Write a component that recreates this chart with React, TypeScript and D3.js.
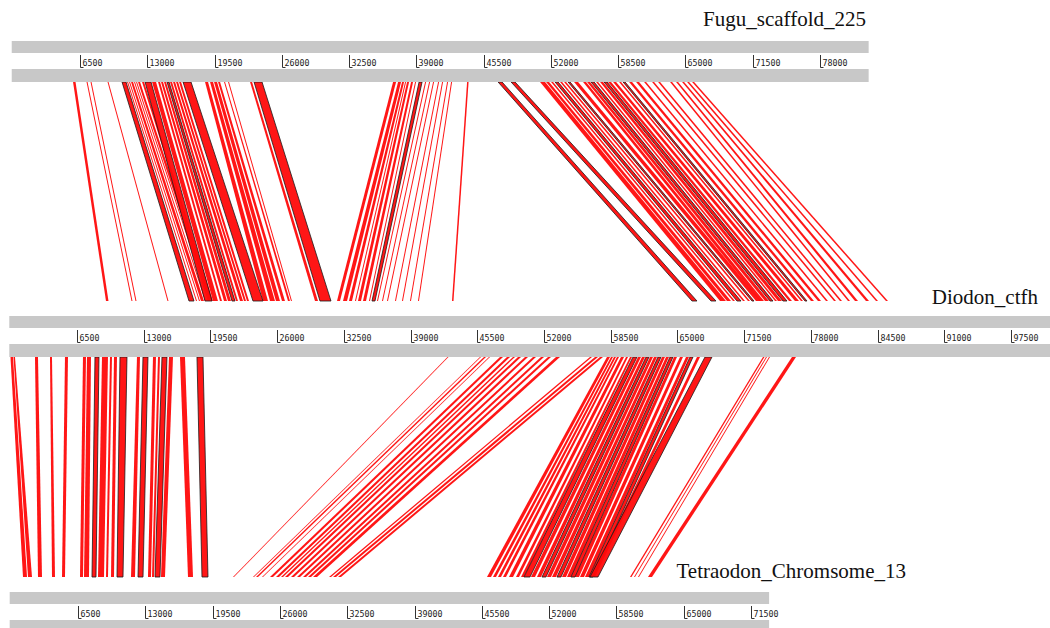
import React from 'react';
import * as d3 from 'd3';

// sequence names and lengths (bp)
const sequences = ['Fugu_scaffold_225', 'Diodon_ctfh', 'Tetraodon_Chromsome_13'];
const seqLengths = [82700, 101500, 73250];

// matches: [start1, end1, start2, end2, outlined]
// Fugu -> Diodon
const fuguDiodonLeft: number[][] = [
  [5827, 6068, 9324, 9568, 0],
  [7131, 7228, 11809, 11906, 0],
  [7518, 7614, 12198, 12296, 0],
  [9160, 9257, 15316, 15414, 0],
  [10562, 10948, 17411, 17898, 1],
  [11045, 11141, 18093, 18190, 0],
  [11238, 11335, 18385, 18483, 0],
  [11431, 11625, 18580, 18872, 0],
  [11721, 11818, 18970, 19067, 0],
  [11914, 12011, 19262, 19359, 0],
  [12108, 12301, 19359, 19652, 0],
  [12494, 12688, 19554, 19749, 0],
  [12784, 13364, 18970, 19652, 1],
  [13461, 13847, 19749, 20236, 0],
  [14040, 14234, 20431, 20626, 0],
  [14330, 14524, 20821, 21113, 0],
  [14620, 14814, 21211, 21503, 0],
  [14910, 15103, 21600, 21892, 1],
  [15200, 15393, 21990, 22185, 0],
  [15490, 15683, 22380, 22672, 0],
  [15780, 15973, 22769, 22964, 0],
  [16070, 16263, 23062, 23257, 0],
  [16456, 17229, 23646, 24621, 1],
  [18582, 18872, 24621, 25108, 0],
  [19065, 19355, 25303, 25790, 0],
  [19452, 19742, 25887, 26277, 0],
  [19838, 20032, 26472, 26764, 0],
  [20418, 20515, 27056, 27251, 0],
  [20804, 20901, 27349, 27446, 0],
  [22930, 23124, 29687, 29979, 0],
  [23317, 24090, 30174, 31246, 1],
];

const fuguDiodonMid: number[][] = [
  [36748, 37038, 31830, 32123, 0],
  [37232, 37522, 32415, 32805, 0],
  [37618, 37812, 32999, 33291, 0],
  [37908, 38005, 33584, 33681, 0],
  [38101, 38295, 33876, 34169, 0],
  [38488, 38681, 34364, 34656, 0],
  [38874, 38971, 34948, 35046, 0],
  [39261, 39551, 35241, 35533, 1],
  [39841, 39938, 35728, 35825, 0],
  [40227, 40324, 36215, 36312, 0],
  [40614, 40710, 36702, 36800, 0],
  [41097, 41194, 37482, 37579, 0],
  [41483, 41580, 38163, 38261, 0],
  [41966, 42063, 38943, 39040, 0],
  [42353, 42450, 39722, 39820, 0],
  [43899, 44044, 43035, 43181, 0],
];

const fuguDiodonRight: number[][] = [
  [46894, 47281, 66418, 66905, 1],
  [48151, 48537, 68269, 68756, 1],
  [50953, 51436, 69146, 69730, 0],
  [51533, 51823, 69828, 70217, 0],
  [52016, 52209, 70413, 70607, 0],
  [52402, 52692, 70802, 71192, 1],
  [52886, 53079, 71387, 71582, 0],
  [53272, 53465, 71874, 72069, 0],
  [53659, 53852, 72264, 72458, 1],
  [54238, 54625, 72653, 73140, 0],
  [55108, 55398, 73043, 73433, 0],
  [55494, 55784, 73530, 73920, 0],
  [55881, 56171, 74018, 74310, 1],
  [56364, 56557, 74505, 74700, 0],
  [56751, 57040, 74797, 75187, 0],
  [57137, 57427, 75284, 75674, 1],
  [57524, 57814, 75869, 76161, 0],
  [58007, 58297, 76453, 76843, 0],
  [58587, 58780, 77038, 77233, 0],
  [58973, 59166, 77428, 77623, 1],
  [59553, 59843, 78012, 78305, 0],
  [60230, 60519, 78694, 78987, 0],
  [61003, 61196, 79474, 79669, 0],
  [61776, 61969, 80253, 80448, 0],
  [62355, 62549, 80838, 81033, 0],
  [63515, 63708, 81617, 81812, 0],
  [64095, 64288, 82299, 82592, 0],
  [64674, 64868, 83371, 83663, 0],
  [65158, 65351, 84345, 84540, 0],
  [65641, 65834, 85319, 85514, 0],
];

// Diodon -> Tetraodon
const diodonTetraLeft: number[][] = [
  [19, 263, 1188, 1574, 0],
  [312, 458, 1671, 2057, 0],
  [2407, 2699, 2637, 3023, 0],
  [3868, 4063, 3989, 4279, 0],
  [5329, 5622, 4955, 5244, 0],
  [7083, 7376, 6693, 6983, 0],
  [7473, 7863, 7079, 7562, 0],
  [8252, 8642, 7852, 8238, 1],
  [8934, 9519, 8431, 9011, 0],
  [9714, 9909, 9204, 9397, 0],
  [10104, 10396, 9687, 9977, 0],
  [10688, 11370, 10266, 10846, 1],
  [12344, 12637, 11619, 12005, 0],
  [12929, 13416, 12295, 12778, 1],
  [13903, 14196, 13260, 13550, 0],
  [14390, 14585, 13647, 13840, 0],
  [14780, 15267, 13937, 14419, 1],
  [15462, 15852, 14516, 14902, 0],
  [16534, 17021, 17124, 17607, 0],
  [18190, 18775, 18476, 19055, 1],
];

const diodonTetraMid: number[][] = [
  [42596, 42694, 21470, 21566, 0],
  [45763, 45860, 23402, 23498, 0],
  [46152, 46347, 23691, 23885, 0],
  [46640, 46737, 24271, 24367, 0],
  [47711, 48004, 25043, 25333, 0],
  [48394, 48686, 25623, 25912, 0],
  [48978, 49173, 26106, 26299, 0],
  [49465, 49757, 26492, 26782, 0],
  [50147, 50440, 27071, 27361, 0],
  [50927, 51219, 27651, 27940, 0],
  [51706, 51999, 28230, 28520, 0],
  [52388, 52681, 28713, 29003, 0],
  [53168, 53557, 29196, 29583, 0],
  [56480, 56675, 30742, 30935, 0],
  [56967, 57260, 31127, 31417, 0],
  [57454, 57746, 31611, 31900, 0],
];

const diodonTetraRight: number[][] = [
  [58137, 58429, 46001, 46387, 0],
  [58526, 58721, 46581, 46870, 0],
  [58818, 59013, 47064, 47354, 0],
  [59111, 59306, 47546, 47836, 0],
  [59500, 59793, 48126, 48512, 0],
  [59988, 60183, 48802, 49092, 0],
  [60377, 60572, 49285, 49575, 0],
  [60670, 61060, 49575, 50154, 1],
  [61157, 61449, 50250, 50637, 0],
  [61547, 61839, 50830, 51216, 0],
  [61936, 62229, 51313, 51699, 1],
  [62326, 62618, 51796, 52182, 0],
  [62716, 63008, 52279, 52665, 0],
  [63105, 63398, 52762, 53148, 1],
  [63495, 63787, 53245, 53631, 0],
  [63885, 64177, 53727, 54114, 0],
  [64275, 64567, 54114, 54500, 1],
  [64664, 64956, 54500, 54886, 0],
  [65249, 65541, 54983, 55369, 0],
  [65833, 66126, 55466, 55852, 0],
  [66223, 66516, 55852, 56238, 1],
  [66905, 67197, 56142, 56432, 0],
  [67685, 68367, 55949, 56722, 1],
  [73336, 73482, 59812, 59957, 0],
  [73628, 73725, 60198, 60295, 0],
  [73919, 74017, 60585, 60681, 0],
  [76161, 76551, 61550, 61937, 0],
];

const TICK_STEP = 6500;
const GREY = '#c8c8c8';

// ruler layout: y of the top bar, pixel position of first/last labelled ticks
const rulers = [
  { y: 41, d0: 6500, d1: 78000, r0: 80, r1: 820, labelX: 866, labelY: 26 },
  { y: 316, d0: 6500, d1: 97500, r0: 77, r1: 1011, labelX: 1038, labelY: 304 },
  { y: 592, d0: 6500, d1: 71500, r0: 78, r1: 751, labelX: 906, labelY: 578 },
];

const App = () => {
  const scales = rulers.map((r) =>
    d3.scaleLinear().domain([r.d0, r.d1]).range([r.r0, r.r1])
  );

  const panels = [
    { a: 0, b: 1, y1: 82, y2: 301, data: [fuguDiodonLeft, fuguDiodonMid, fuguDiodonRight] },
    { a: 1, b: 2, y1: 357, y2: 577, data: [diodonTetraLeft, diodonTetraMid, diodonTetraRight] },
  ];

  const line = d3.line();

  return (
    <svg
      width={1050}
      height={628}
      style={{ position: 'absolute', left: 0, top: 0, background: '#fff' }}
    >
      {/* match polygons */}
      {panels.map((p, pi) => {
        const xa = scales[p.a];
        const xb = scales[p.b];
        const all = p.data.flat();
        const sorted = [...all.filter((m) => !m[4]), ...all.filter((m) => m[4])];
        return (
          <g key={pi}>
            {sorted.map((m, i) => (
              <path
                key={i}
                d={line([
                  [xa(m[0]), p.y1],
                  [xa(m[1]), p.y1],
                  [xb(m[3]), p.y2],
                  [xb(m[2]), p.y2],
                ]) + 'Z'}
                fill="#ff0a0a"
                fillOpacity={0.95}
                stroke={m[4] ? '#1a1a1a' : 'none'}
                strokeWidth={m[4] ? 0.8 : 0}
              />
            ))}
          </g>
        );
      })}

      {/* rulers */}
      {rulers.map((r, ri) => {
        const x = scales[ri];
        const xs = x(0) - 1;
        const xe = Math.min(x(seqLengths[ri]), 1050);
        const ticks = d3.range(TICK_STEP, seqLengths[ri], TICK_STEP);
        return (
          <g key={ri}>
            <rect x={xs} y={r.y} width={xe - xs} height={12} fill={GREY} />
            <rect x={xs} y={r.y + 12} width={xe - xs} height={16} fill="#fff" />
            <rect x={xs} y={r.y + 28} width={xe - xs} height={13} fill={GREY} />
            {ticks.map((t) => {
              const tx = Math.round(x(t)) + 0.5;
              return (
                <g key={t}>
                  <path
                    d={`M${tx},${r.y + 14}V${r.y + 26.5}H${tx + 3}`}
                    fill="none"
                    stroke="#333"
                    strokeWidth={1}
                  />
                  <text
                    x={tx + 2}
                    y={r.y + 25}
                    fontFamily="'DejaVu Sans Mono', monospace"
                    fontSize={8.3}
                    fill="#222"
                  >
                    {t}
                  </text>
                </g>
              );
            })}
            <text
              x={r.labelX}
              y={r.labelY}
              textAnchor="end"
              fontFamily="'Liberation Serif', 'Times New Roman', serif"
              fontSize={21}
              fill="#111"
            >
              {sequences[ri]}
            </text>
          </g>
        );
      })}
    </svg>
  );
};

export default App;
